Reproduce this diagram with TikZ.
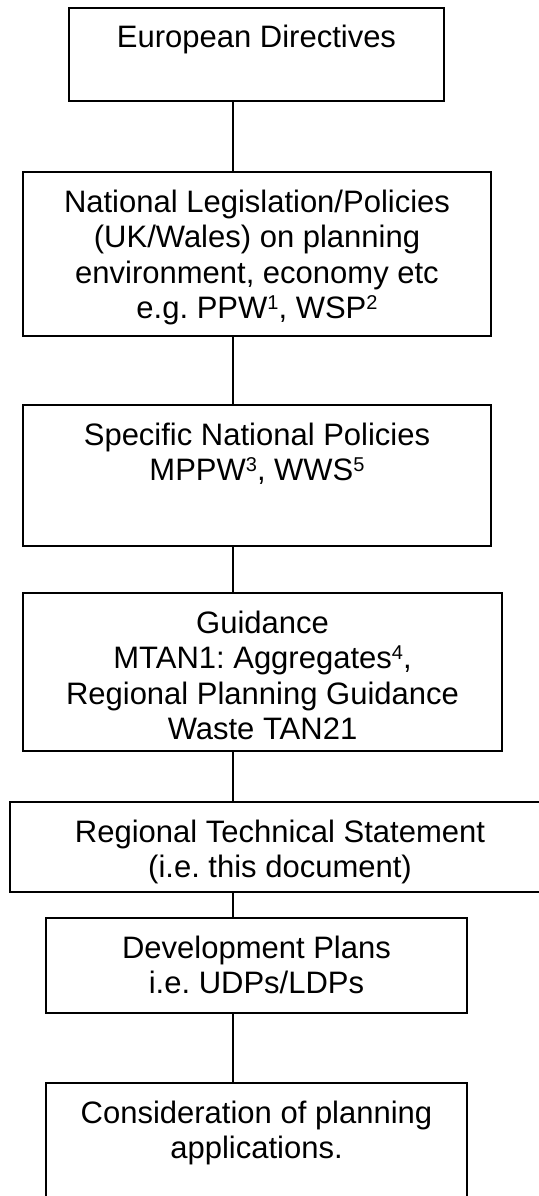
\documentclass[tikz,border=0pt]{standalone}
\usepackage{fontspec}
\setmainfont{Liberation Sans}
\frenchspacing
\newcommand\supnum[1]{\raisebox{9pt}{\fontsize{20}{20}\selectfont #1}}
\begin{document}
\begin{tikzpicture}[x=1pt,y=-1pt,
  boxst/.style={draw=black, line width=1.3pt, inner sep=0pt, outer sep=0pt, anchor=north west},
  txt/.style={inner sep=0pt, outer sep=0pt, align=center, anchor=north, text=black,
    font=\fontsize{31}{35.6}\selectfont\frenchspacing},
  link/.style={draw=black, line width=1.3pt}]
\useasboundingbox (0,0) rectangle (538,1196);
\coordinate (axis) at (233,0);
% boxes
\node[boxst, minimum width=375pt, minimum height=93pt]  (b1) at (69,8) {};
\node[boxst, minimum width=468pt, minimum height=164pt] (b2) at (23,172) {};
\node[boxst, minimum width=468pt, minimum height=141pt] (b3) at (23,405) {};
\node[boxst, minimum width=479pt, minimum height=158pt] (b4) at (23,593) {};
\node[boxst, minimum width=540pt, minimum height=90pt]  (b5) at (10,802) {};
\node[boxst, minimum width=421pt, minimum height=95pt]  (b6) at (46,918) {};
\node[boxst, minimum width=421pt, minimum height=140pt] (b7) at (46,1083) {};
% texts
\node[txt] (t1) at ([yshift=-15pt]b1.north) {\rule{0pt}{25pt}European Directives};
\node[txt] (t2) at ([yshift=-15pt]b2.north) {\rule{0pt}{25pt}National Legislation/Policies\\
  (UK/Wales) on planning\\ environment, economy etc\\ e.g. PPW\supnum{1}, WSP\supnum{2}};
\node[txt] (t3) at ([yshift=-15pt]b3.north) {\rule{0pt}{25pt}Specific National Policies\\
  MPPW\supnum{3}, WWS\supnum{5}};
\node[txt] (t4) at ([yshift=-15pt]b4.north) {\rule{0pt}{25pt}Guidance\\
  MTAN1: Aggregates\supnum{4},\\ Regional Planning Guidance\\ Waste TAN21};
\node[txt] (t5) at ([yshift=-15pt]b5.north) {\rule{0pt}{25pt}Regional Technical Statement\\
  (i.e. this document)};
\node[txt] (t6) at ([yshift=-15pt]b6.north) {\rule{0pt}{25pt}Development Plans\\ i.e. UDPs/LDPs};
\node[txt] (t7) at ([yshift=-15pt]b7.north) {\rule{0pt}{25pt}Consideration of planning\\ applications.};
% connectors
\draw[link] (b1.south -| axis) -- (b2.north -| axis);
\draw[link] (b2.south -| axis) -- (b3.north -| axis);
\draw[link] (b3.south -| axis) -- (b4.north -| axis);
\draw[link] (b4.south -| axis) -- (b5.north -| axis);
\draw[link] (b5.south -| axis) -- (b6.north -| axis);
\draw[link] (b6.south -| axis) -- (b7.north -| axis);
\end{tikzpicture}
\end{document}
